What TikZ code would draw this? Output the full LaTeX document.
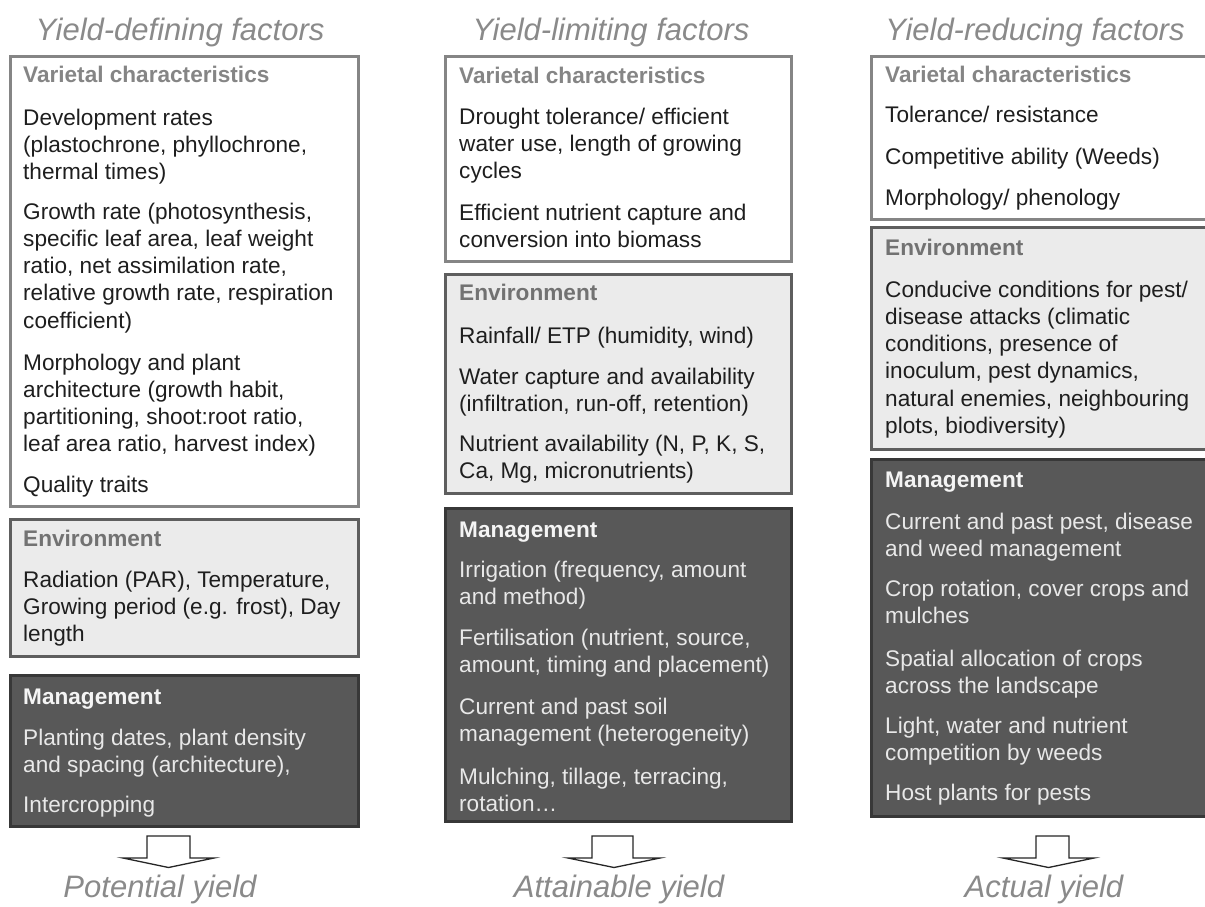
\documentclass[tikz,border=0pt]{standalone}
\usepackage{fontspec}
\setmainfont{Liberation Sans}
\definecolor{ttlc}{HTML}{8A8A8A}
\definecolor{vhc}{HTML}{858585}
\definecolor{ehc}{HTML}{727272}
\definecolor{bodyc}{HTML}{1E1E1E}
\definecolor{mhc}{HTML}{F4F4F4}
\definecolor{mbc}{HTML}{E8E8E8}
\definecolor{bAc}{HTML}{858585}
\definecolor{bBc}{HTML}{5E5E5E}
\definecolor{bCc}{HTML}{383838}
\definecolor{envfill}{HTML}{EBEBEB}
\definecolor{mgfill}{HTML}{585858}
\tikzset{
  body/.style={font=\fontsize{22.6}{27}\selectfont, text=bodyc, inner sep=0pt, anchor=base west},
  mbody/.style={font=\fontsize{22.6}{27}\selectfont, text=mbc, inner sep=0pt, anchor=base west},
  vhdr/.style={font=\fontsize{22.6}{27}\selectfont\bfseries, text=vhc, inner sep=0pt, anchor=base west},
  ehdr/.style={font=\fontsize{22.6}{27}\selectfont\bfseries, text=ehc, inner sep=0pt, anchor=base west},
  mhdr/.style={font=\fontsize{22.6}{27}\selectfont\bfseries, text=mhc, inner sep=0pt, anchor=base west},
  ttl/.style={font=\fontsize{31}{36}\selectfont\itshape, text=ttlc, inner sep=0pt, anchor=base},
  varbox/.style={draw=bAc, fill=white, line width=2.6pt},
  envbox/.style={draw=bBc, fill=envfill, line width=2.6pt},
  mgbox/.style={draw=bCc, fill=mgfill, line width=2.6pt},
  blockarrow/.style={draw=black!85, fill=white, line width=1.3pt, line join=miter},
}
\newcommand{\plines}[5]{%
  \foreach \t [count=\i from 0] in {#5} {
    \node[#2] (#1-\i) at ({#3},{#4+7+\i*27.3}) {\t};
  }%
}
\begin{document}
\begin{tikzpicture}[x=1pt,y=-1pt]
\useasboundingbox (0,0) rectangle (1205,906);
\fill[white] (0,0) rectangle (1205,906);

% ---------- titles ----------
\node[ttl] (t1) at (180,40) {Yield-defining factors};
\node[ttl] (t2) at (611,40) {Yield-limiting factors};
\node[ttl] (t3) at (1035,40) {Yield-reducing factors};

% ---------- column 1 ----------
\draw[varbox] (10.3,56.3) rectangle (358.7,506.7);
\draw[envbox] (10.3,519.3) rectangle (358.7,656.7);
\draw[mgbox]  (10.3,675.3) rectangle (358.7,826.7);

\node[vhdr] (a-h) at (23,82) {Varietal characteristics};
\plines{a1}{body}{23}{118}{{Development rates},{(plastochrone, phyllochrone,},{thermal times)}}
\plines{a2}{body}{23}{212}{{Growth rate (photosynthesis,},{specific leaf area, leaf weight},{ratio, net assimilation rate,},{relative growth rate, respiration},{coefficient)}}
\plines{a3}{body}{23}{363}{{Morphology and plant},{architecture (growth habit,},{partitioning, shoot:root ratio,},{leaf area ratio, harvest index)}}
\plines{a4}{body}{23}{485}{{Quality traits}}

\node[ehdr] (ae-h) at (23,546) {Environment};
\plines{ae1}{body}{23}{580}{{Radiation (PAR), Temperature,},{Growing period (e.g. frost), Day},{length}}

\node[mhdr] (am-h) at (23,704) {Management};
\plines{am1}{mbody}{23}{738}{{Planting dates, plant density},{and spacing (architecture),}}
\plines{am2}{mbody}{23}{805}{{Intercropping}}

% ---------- column 2 ----------
\draw[varbox] (445.3,56.3) rectangle (791.7,261.7);
\draw[envbox] (445.3,274.3) rectangle (791.7,493.7);
\draw[mgbox]  (445.3,508.3) rectangle (791.7,821.7);

\node[vhdr] (b-h) at (459,83) {Varietal characteristics};
\plines{b1}{body}{459}{117}{{Drought tolerance/ efficient},{water use, length of growing},{cycles}}
\plines{b2}{body}{459}{213}{{Efficient nutrient capture and},{conversion into biomass}}

\node[ehdr] (be-h) at (459,300) {Environment};
\plines{be1}{body}{459}{336}{{Rainfall/ ETP (humidity, wind)}}
\plines{be2}{body}{459}{377}{{Water capture and availability},{(infiltration, run-off, retention)}}
\plines{be3}{body}{459}{444}{{Nutrient availability (N, P, K, S,},{Ca, Mg, micronutrients)}}

\node[mhdr] (bm-h) at (459,537) {Management};
\plines{bm1}{mbody}{459}{570}{{Irrigation (frequency, amount},{and method)}}
\plines{bm2}{mbody}{459}{638}{{Fertilisation (nutrient, source,},{amount, timing and placement)}}
\plines{bm3}{mbody}{459}{707}{{Current and past soil},{management (heterogeneity)}}
\plines{bm4}{mbody}{459}{777}{{Mulching, tillage, terracing,},{rotation…}}

% ---------- column 3 ----------
\draw[varbox] (871.3,56.3) rectangle (1208,219.7);
\draw[envbox] (871.3,227.3) rectangle (1208,449.7);
\draw[mgbox]  (871.3,459.3) rectangle (1208,816.7);

\node[vhdr] (c-h) at (885,82) {Varietal characteristics};
\plines{c1}{body}{885}{115}{{Tolerance/ resistance}}
\plines{c2}{body}{885}{157}{{Competitive ability (Weeds)}}
\plines{c3}{body}{885}{198}{{Morphology/ phenology}}

\node[ehdr] (ce-h) at (885,255) {Environment};
\plines{ce1}{body}{885}{290}{{Conducive conditions for pest/},{disease attacks (climatic},{conditions, presence of},{inoculum, pest dynamics,},{natural enemies, neighbouring},{plots, biodiversity)}}

\node[mhdr] (cm-h) at (885,487) {Management};
\plines{cm1}{mbody}{885}{522}{{Current and past pest, disease},{and weed management}}
\plines{cm2}{mbody}{885}{589}{{Crop rotation, cover crops and},{mulches}}
\plines{cm3}{mbody}{885}{659}{{Spatial allocation of crops},{across the landscape}}
\plines{cm4}{mbody}{885}{726}{{Light, water and nutrient},{competition by weeds}}
\plines{cm5}{mbody}{885}{793}{{Host plants for pests}}

% ---------- block arrows ----------
\draw[blockarrow] (147,836) -- (190,836) -- (190,858) -- (214,858) -- (168.5,867.5) -- (123,858) -- (147,858) -- cycle;
\draw[blockarrow] (592,836) -- (633,836) -- (633,858) -- (660,858) -- (614,867.5) -- (568,858) -- (592,858) -- cycle;
\draw[blockarrow] (1036,836) -- (1069,836) -- (1069,858) -- (1094,858) -- (1048.5,867.5) -- (1003,858) -- (1036,858) -- cycle;

% ---------- results ----------
\node[ttl] (r1) at (160,897) {Potential yield};
\node[ttl] (r2) at (619,897) {Attainable yield};
\node[ttl] (r3) at (1044,897) {Actual yield};
\end{tikzpicture}
\end{document}
